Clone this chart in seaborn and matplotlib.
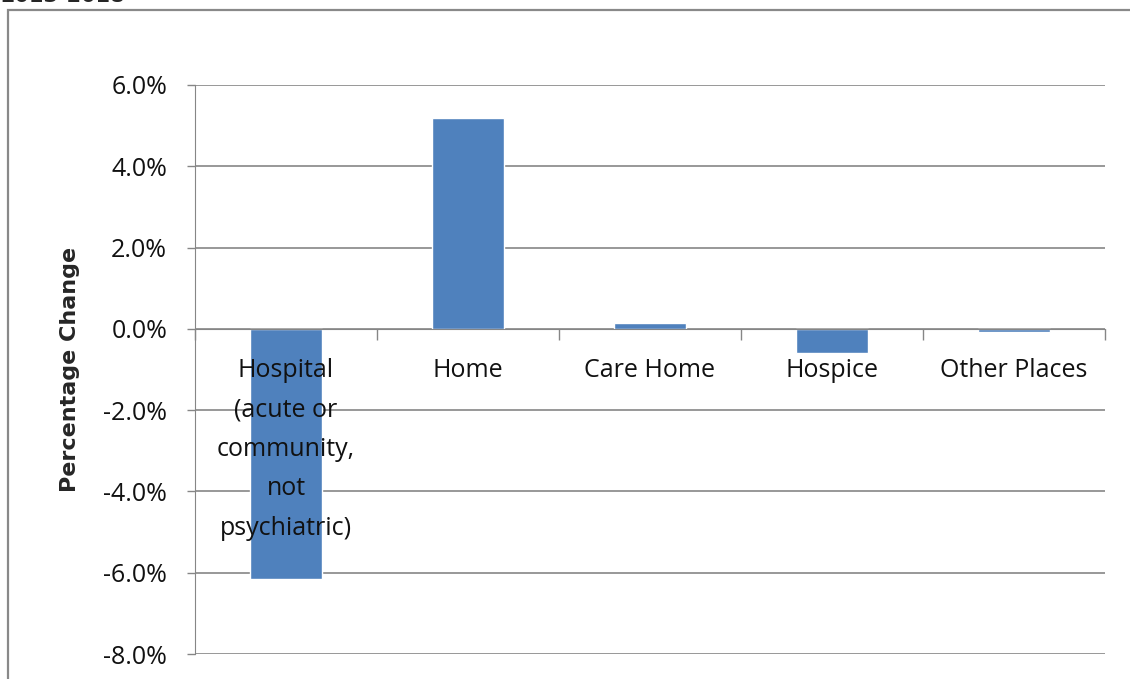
import numpy as np
import pandas as pd
import seaborn as sns
import matplotlib.pyplot as plt
from matplotlib.patches import Rectangle
from matplotlib.ticker import PercentFormatter, FixedLocator

# values
categories = ["Hospital\n(acute or\ncommunity,\nnot\npsychiatric)", "Home", "Care Home", "Hospice", "Other Places"]
pct_change = [-6.15, 5.2, 0.15, -0.6, -0.07]
y_ticks = [6, 4, 2, 0, -2, -4, -6, -8]

df = pd.DataFrame({"place": categories, "change": pct_change})

sns.set_style("white")
plt.rcParams["font.family"] = ["Open Sans", "DejaVu Sans"]
plt.rcParams["axes.unicode_minus"] = False

fig = plt.figure(figsize=(11.3, 6.79), dpi=100)
ax = fig.add_axes([195 / 1130, 1 - 654 / 679, 910 / 1130, 569 / 679])

sns.barplot(data=df, x="place", y="change", color="#4F81BD", width=0.4,
            saturation=1, ax=ax, zorder=2)

ax.set_axisbelow(False)  # tick labels drawn over the bars
ax.set_ylim(-8, 6)
ax.set_xlim(-0.5, 4.5)
ax.yaxis.set_major_locator(FixedLocator(y_ticks))
ax.yaxis.set_major_formatter(PercentFormatter(decimals=1))
# gridlines behind the bars
for t in y_ticks:
    ax.axhline(t, color="#868686", linewidth=1.2, zorder=1)
ax.tick_params(axis="y", labelsize=18, labelcolor="#111111", color="#868686",
               length=6, width=1, direction="out", left=True, pad=14)

# category axis sits on the zero line, ticks between categories
for side in ["top", "right"]:
    ax.spines[side].set_visible(False)
ax.spines["bottom"].set_position(("data", 0))
ax.spines["bottom"].set_color("#868686")
ax.spines["left"].set_color("#868686")
ax.set_xticks(np.arange(-0.5, 5, 1), minor=True)
ax.tick_params(axis="x", which="minor", length=8, width=1, color="#868686",
               direction="out", bottom=True)
ax.tick_params(axis="x", which="major", length=0, labelsize=18,
               labelcolor="#111111", pad=21)
for lab in ax.get_xticklabels():
    lab.set_linespacing(1.76)
    lab.set_verticalalignment("top")

ax.set_xlabel("")
ax.set_ylabel("Percentage Change", fontsize=16, fontweight="bold",
              family="DejaVu Sans")
ax.yaxis.set_label_coords(-0.126, 0.5)

# outer chart frame
fig.patches.append(Rectangle((8 / 1130, -0.05), 1.1, 1 - 10 / 679 + 0.05,
                             transform=fig.transFigure, fill=False,
                             edgecolor="#898989", linewidth=1.6))
fig.text(0.0, 1 - 2 / 679, "2013-2018", fontsize=15, fontweight="bold",
         va="baseline", ha="left", family="DejaVu Sans")

fig.savefig("out.png", dpi=100)
